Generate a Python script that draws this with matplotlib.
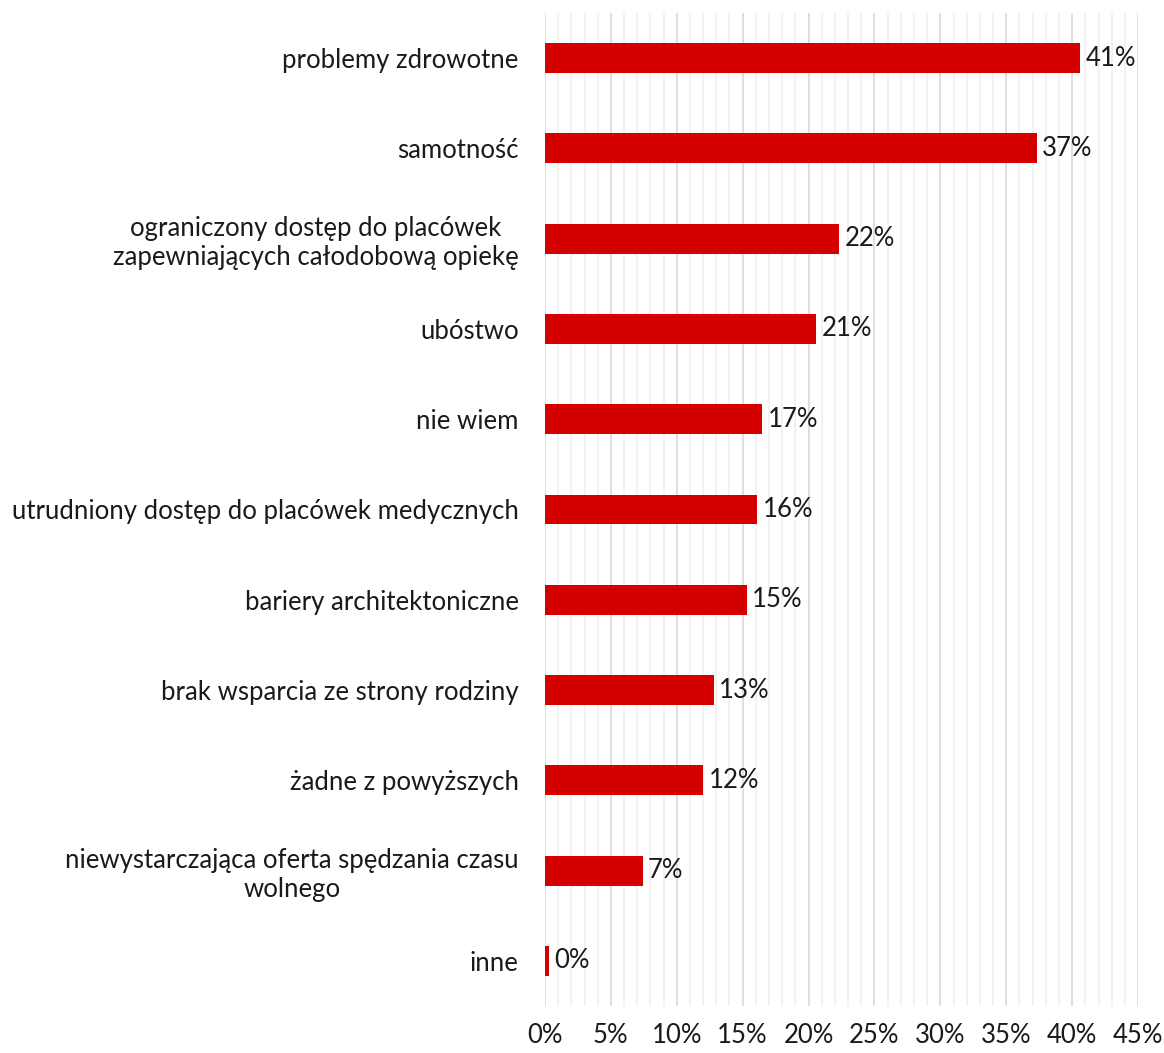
import matplotlib.pyplot as plt
from matplotlib.ticker import MultipleLocator, FuncFormatter

categories = [
    "problemy zdrowotne",
    "samotność",
    "ograniczony dostęp do placówek\nzapewniających całodobową opiekę",
    "ubóstwo",
    "nie wiem",
    "utrudniony dostęp do placówek medycznych",
    "bariery architektoniczne",
    "brak wsparcia ze strony rodziny",
    "żadne z powyższych",
    "niewystarczająca oferta spędzania czasu\nwolnego",
    "inne",
]
values = [40.6, 37.3, 22.3, 20.6, 16.5, 16.1, 15.3, 12.8, 12.0, 7.4, 0.3]
labels = ["41%", "37%", "22%", "21%", "17%", "16%", "15%", "13%", "12%", "7%", "0%"]

plt.rcParams['font.family'] = ['Lato', 'DejaVu Sans']
fs = 18.5
txt = "#1a1a1a"

fig = plt.figure(figsize=(11.64, 10.53), dpi=100)
ax = fig.add_axes([0.4682, 0.0446, 0.5095, 0.9431])

ypos = list(range(len(categories)))
ax.barh(ypos, values, height=0.33, color="#d40000", zorder=3)

for y, v, lab in zip(ypos, values, labels):
    ax.annotate(lab, (v, y), xytext=(4, 0), textcoords="offset points",
                va="center", ha="left", fontsize=fs, color=txt)

ax.set_xlim(0, 45)
ax.set_ylim(len(categories) - 0.5, -0.5)
ax.set_yticks(ypos)
ax.set_yticklabels(categories, fontsize=fs, color=txt, ha="right", multialignment="center")
ax.tick_params(axis="y", length=0, pad=19)
ax.xaxis.set_major_locator(MultipleLocator(5))
ax.xaxis.set_minor_locator(MultipleLocator(1))
ax.xaxis.set_major_formatter(FuncFormatter(lambda x, p: f"{x:.0f}%"))
ax.tick_params(axis="x", which="both", length=0, labelsize=fs, labelcolor=txt, pad=12)
ax.grid(axis="x", which="major", color="#d9d9d9", linewidth=1.2, zorder=0)
ax.grid(axis="x", which="minor", color="#f0f0f0", linewidth=1.2, zorder=0)
for s in ax.spines.values():
    s.set_visible(False)

fig.savefig("out.png", dpi=100)
